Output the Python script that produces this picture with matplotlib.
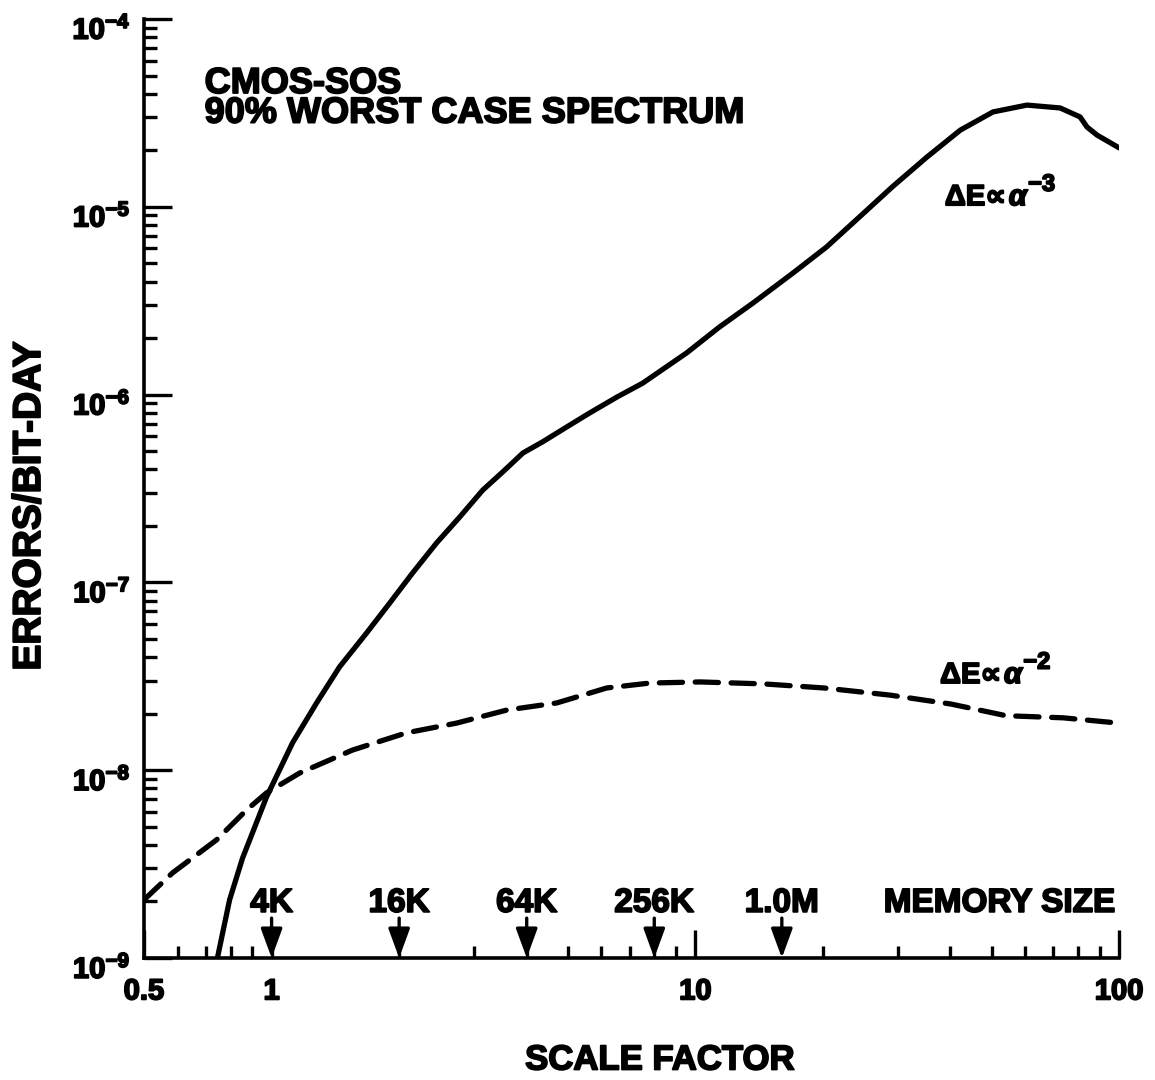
import matplotlib
matplotlib.use("Agg")
import matplotlib.pyplot as plt
import matplotlib.patheffects as pe
from matplotlib.ticker import LogLocator, NullFormatter, FixedLocator
from matplotlib.transforms import ScaledTranslation

plt.rcParams['font.family'] = ['Liberation Sans', 'DejaVu Sans']
plt.rcParams['font.weight'] = 'bold'
plt.rcParams['mathtext.fontset'] = 'custom'
plt.rcParams['mathtext.rm'] = 'Liberation Sans:bold'
plt.rcParams['mathtext.bf'] = 'Liberation Sans:bold'
plt.rcParams['mathtext.it'] = 'Liberation Sans:italic:bold'
plt.rcParams['mathtext.sf'] = 'Liberation Sans:bold'

# curve for Delta E ~ alpha^-3 (solid)
x_a3 = [0.745, 0.796, 0.854, 0.973, 1.121, 1.277, 1.447, 1.676, 1.90, 2.15, 2.45,
        2.78, 3.15, 3.51, 3.92, 4.36, 4.97, 5.63, 6.53, 7.51, 9.55, 11.4, 13.7,
        17.0, 20.4, 24.4, 29.2, 35.2, 42.2, 50.4, 60.6, 72.6, 80.9, 84.0, 88.7, 100.0]
y_a3 = [1.0e-9, 2.04e-9, 3.4e-9, 7.2e-9, 1.40e-8, 2.28e-8, 3.55e-8, 5.38e-8, 7.76e-8,
        1.12e-7, 1.62e-7, 2.23e-7, 3.10e-7, 3.87e-7, 4.89e-7, 5.6e-7, 6.72e-7, 7.98e-7,
        9.70e-7, 1.15e-6, 1.67e-6, 2.29e-6, 3.08e-6, 4.44e-6, 6.11e-6, 8.83e-6,
        1.28e-5, 1.84e-5, 2.56e-5, 3.20e-5, 3.48e-5, 3.36e-5, 3.01e-5, 2.66e-5,
        2.41e-5, 2.06e-5]

# curve for Delta E ~ alpha^-2 (dashed)
x_a2 = [0.5, 0.584, 0.741, 0.873, 0.973, 1.165, 1.553, 2.08, 2.73, 3.59, 4.71,
        6.18, 7.81, 10.25, 14.5, 20.1, 28.8, 40.1, 54.1, 73.8, 100.0]
y_a2 = [2.04e-9, 2.84e-9, 4.25e-9, 6.14e-9, 7.57e-9, 9.66e-9, 1.28e-8, 1.58e-8,
        1.78e-8, 2.09e-8, 2.28e-8, 2.74e-8, 2.91e-8, 2.95e-8, 2.88e-8, 2.74e-8,
        2.51e-8, 2.25e-8, 1.95e-8, 1.9e-8, 1.78e-8]

# memory size markers
mem_x = [1, 2, 4, 8, 16]
mem_labels = ['4K', '16K', '64K', '256K', '1.0M']

ink = [pe.withStroke(linewidth=1.3, foreground='black')]

fig = plt.figure(figsize=(11.55, 10.8), dpi=100)
ax = fig.add_axes([0.1247, 0.1130, 0.8442, 0.8694])

ax.plot(x_a3, y_a3, color='black', lw=3.8, solid_capstyle='round', solid_joinstyle='round')
ax.plot(x_a2, y_a2, color='black', lw=3.8, dashes=(4.4, 2.4), dash_capstyle='round')

ax.set_xscale('log')
ax.set_yscale('log')
ax.set_xlim(0.5, 100)
ax.set_ylim(1e-9, 1e-4)

for s in ['top', 'right']:
    ax.spines[s].set_visible(False)
for s in ['left', 'bottom']:
    ax.spines[s].set_linewidth(2.6)

ax.xaxis.set_major_locator(FixedLocator([0.5, 1, 10, 100]))
ax.set_xticklabels(['0.5', '1', '10', '100'])
ax.xaxis.set_minor_locator(LogLocator(base=10, subs=[2, 3, 4, 5, 6, 7, 8, 9], numticks=20))
ax.xaxis.set_minor_formatter(NullFormatter())

ax.set_yticks([1e-9, 1e-8, 1e-7, 1e-6, 1e-5, 1e-4])
ax.set_yticklabels([r'$10^{-9}$', r'$10^{-8}$', r'$10^{-7}$', r'$10^{-6}$',
                    r'$10^{-5}$', r'$10^{-4}$'])
ax.yaxis.set_minor_locator(LogLocator(base=10, subs=[2, 3, 4, 5, 6, 7, 8, 9], numticks=20))
ax.yaxis.set_minor_formatter(NullFormatter())

ax.tick_params(which='major', direction='in', length=20, width=2.4, labelsize=21)
ax.tick_params(which='minor', direction='in', length=9, width=2.4)
ax.tick_params(axis='x', which='major', pad=14)
ax.tick_params(axis='y', which='major', pad=10)

# the exponent labels sit a little below their tick in the original
shift = ScaledTranslation(0, -6 / 72, fig.dpi_scale_trans)
for lab in ax.get_yticklabels():
    lab.set_transform(lab.get_transform() + shift)
    lab.set_path_effects(ink)
for lab in ax.get_xticklabels():
    lab.set_path_effects(ink)

# memory size arrows
for mx, ml in zip(mem_x, mem_labels):
    ax.annotate('', xy=(mx, 1e-9), xytext=(mx, 1.63e-9),
                arrowprops=dict(arrowstyle='-|>,head_length=0.6,head_width=0.22',
                                mutation_scale=30, lw=2.4, color='black',
                                shrinkA=0, shrinkB=0))
    ax.text(mx, 1.76e-9, ml, ha='center', va='baseline', fontsize=24,
            fontweight='bold', path_effects=ink)
ax.text(98, 1.76e-9, 'MEMORY SIZE', ha='right', va='baseline', fontsize=24,
        fontweight='bold', path_effects=ink)

ax.text(0.695, 5.62e-5, 'CMOS-SOS\n90% WORST CASE SPECTRUM', ha='left', va='top',
        fontsize=26, fontweight='bold', linespacing=0.8, path_effects=ink)

# curve labels
for lx, ly, ex in [(38.8, 1.02e-5, '\u22123'), (37.8, 2.91e-8, '\u22122')]:
    t = ax.text(lx, ly, '\u0394E\u221d', ha='left', va='baseline', fontsize=21,
                fontweight='bold', path_effects=ink)
    a = ax.annotate('\u03b1', xy=(1, 0), xycoords=t, xytext=(2, 0), textcoords='offset points',
                    ha='left', va='bottom', fontsize=21, fontweight='bold',
                    fontstyle='italic', path_effects=ink)
    ax.annotate(ex, xy=(1, 0.55), xycoords=a, xytext=(1, 0), textcoords='offset points',
                ha='left', va='bottom', fontsize=17, fontweight='bold', path_effects=ink)

fig.text(30 / 1155, 1 - 506 / 1080, 'ERRORS/BIT-DAY', rotation=90, ha='center', va='center',
         fontsize=28, fontweight='bold', path_effects=ink)
fig.text(660 / 1155, 1 - 1060 / 1080, 'SCALE FACTOR', ha='center', va='center',
         fontsize=25, fontweight='bold', path_effects=ink)

fig.savefig('out.png', dpi=100, facecolor='white')
